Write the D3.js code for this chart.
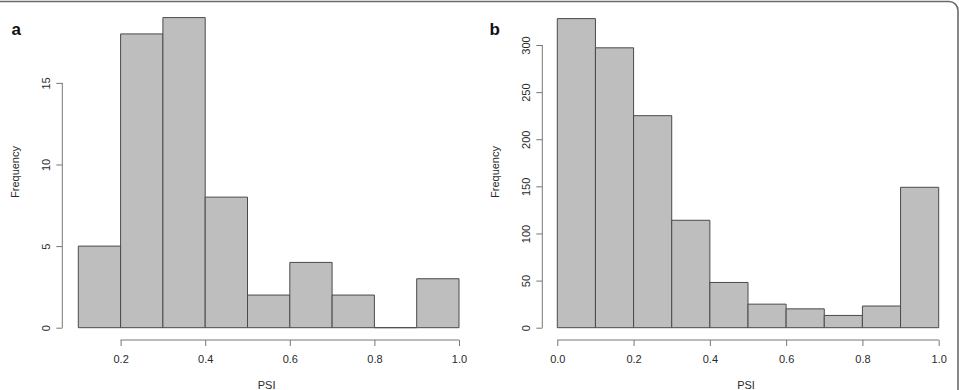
<!DOCTYPE html>
<html><head><meta charset="utf-8">
<script src="https://cdn.jsdelivr.net/npm/d3@7"></script>
<style>
html,body{margin:0;padding:0;background:#fff;}
svg{display:block;}
text{font-family:"Liberation Sans",Arial,Helvetica,sans-serif;}
</style></head>
<body>
<svg id="c" width="959" height="390"></svg>
<script>
// Panel a data
const binsA = [0.1,0.2,0.3,0.4,0.5,0.6,0.7,0.8,0.9,1.0];
const countsA = [5,18,19,8,2,4,2,0,3];
const xTicksA = [0.2,0.4,0.6,0.8,1.0];
const yTicksA = [0,5,10,15];
// Panel b data
const binsB = [0.0,0.1,0.2,0.3,0.4,0.5,0.6,0.7,0.8,0.9,1.0];
const countsB = [328,297,225,114,48,25,20,13,23,149];
const xTicksB = [0.0,0.2,0.4,0.6,0.8,1.0];
const yTicksB = [0,50,100,150,200,250,300];
const xLabel = "PSI";
const yLabel = "Frequency";

const svg = d3.select("#c");

// outer rounded border (cropped)
svg.append("rect").attr("x",-20).attr("y",1.5).attr("width",978).attr("height",420)
  .attr("rx",9).attr("fill","none").attr("stroke","#6a6a6a").attr("stroke-width",1.6);

function panel(cfg){
  const g = svg.append("g");
  const x = d3.scaleLinear().domain(cfg.xDomain).range(cfg.xRange);
  const y = d3.scaleLinear().domain(cfg.yDomain).range(cfg.yRange);
  const data = cfg.counts.map((c,i)=>({x0:cfg.bins[i],x1:cfg.bins[i+1],c}));
  g.selectAll("path.bar").data(data).enter().append("path").attr("class","bar")
    .attr("d",d=>`M${x(d.x0)},${y(0)}H${x(d.x1)}V${y(d.c)}H${x(d.x0)}Z`)
    .attr("fill","#bebebe").attr("stroke","#4a4a4a").attr("stroke-width",1);

  // x axis
  const xa = g.append("g").attr("transform",`translate(0,${cfg.xAxisY})`)
    .call(d3.axisBottom(x).tickValues(cfg.xTicks).tickSize(6).tickFormat(d3.format(".1f")));
  xa.select(".domain").remove();
  xa.selectAll(".tick line").attr("stroke","#777");
  xa.selectAll(".tick text").attr("font-size",11).attr("fill","#2a2a2a").attr("dy","1.25em");
  xa.append("line").attr("x1",x(cfg.xTicks[0])).attr("x2",x(cfg.xTicks[cfg.xTicks.length-1]))
    .attr("y1",0).attr("y2",0).attr("stroke","#777");

  // y axis
  const ya = g.append("g").attr("transform",`translate(${cfg.yAxisX},0)`)
    .call(d3.axisLeft(y).tickValues(cfg.yTicks).tickSize(6));
  ya.select(".domain").remove();
  ya.selectAll(".tick line").attr("stroke","#777");
  ya.selectAll(".tick text").attr("font-size",11).attr("fill","#2a2a2a")
    .attr("x",null).attr("dy",null)
    .attr("text-anchor","middle")
    .attr("transform","translate(-16,0) rotate(-90)").attr("dy","0.35em");
  ya.append("line").attr("y1",y(cfg.yTicks[0])).attr("y2",y(cfg.yTicks[cfg.yTicks.length-1]))
    .attr("x1",0).attr("x2",0).attr("stroke","#777");

  // titles
  const cx = (x.range()[0]+x.range()[1])/2 - 2;
  g.append("text").attr("x",cx).attr("y",388.5).attr("text-anchor","middle")
    .attr("font-size",11).attr("fill","#2a2a2a").text(xLabel);
  g.append("text").attr("transform",`translate(${cfg.yTitleX},172) rotate(-90)`)
    .attr("text-anchor","middle").attr("dy","0.35em").attr("font-size",11).attr("fill","#2a2a2a").text(yLabel);
  g.append("text").attr("x",cfg.labelX).attr("y",35).attr("font-size",17).attr("font-weight","bold")
    .attr("fill","#111").text(cfg.label);
}

panel({bins:binsA,counts:countsA,xTicks:xTicksA,yTicks:yTicksA,
  xDomain:[0.1,1.0],xRange:[78.3,459],yDomain:[0,19],yRange:[327.7,17.6],
  xAxisY:340,yAxisX:62.3,yTitleX:15,labelX:11.5,label:"a"});
panel({bins:binsB,counts:countsB,xTicks:xTicksB,yTicks:yTicksB,
  xDomain:[0,1],xRange:[557.3,938.7],yDomain:[0,300],yRange:[327.7,45],
  xAxisY:340,yAxisX:542.3,yTitleX:495,labelX:489.5,label:"b"});
</script>
</body></html>
